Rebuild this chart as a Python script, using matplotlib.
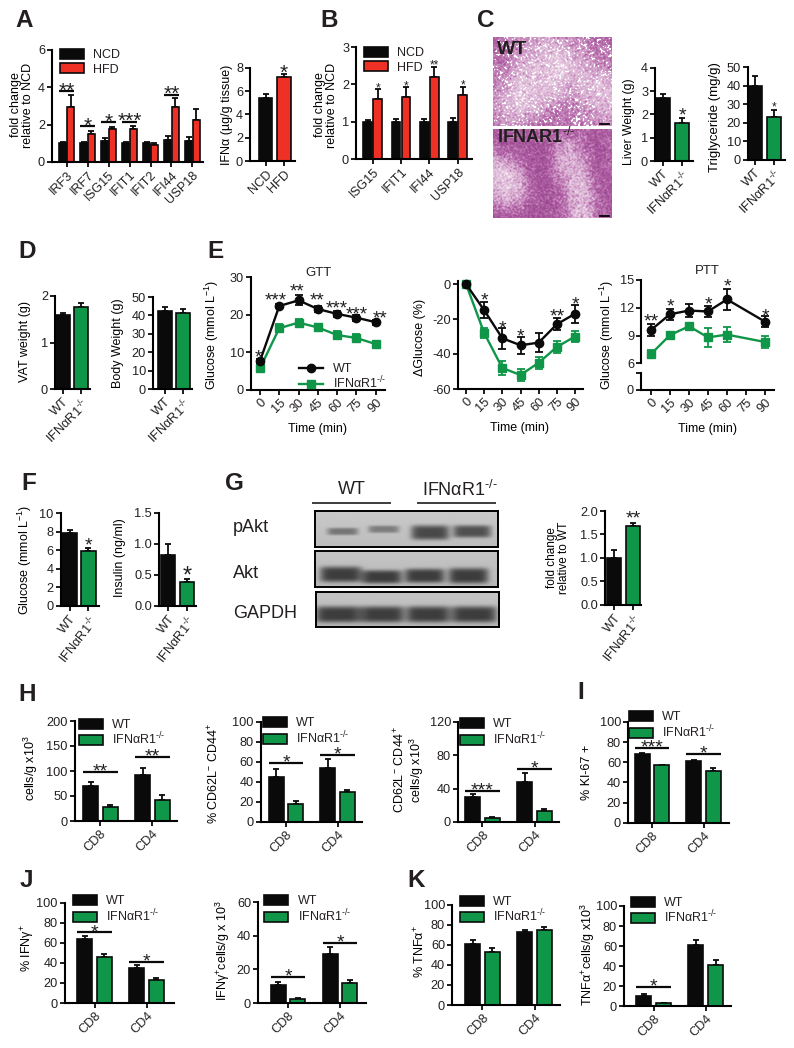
import matplotlib
matplotlib.use("Agg")
import matplotlib.pyplot as plt
import numpy as np
from matplotlib.colors import LinearSegmentedColormap
from matplotlib.lines import Line2D

plt.rcParams["font.family"] = ["Liberation Sans", "DejaVu Sans"]
plt.rcParams["mathtext.fontset"] = "custom"
plt.rcParams["mathtext.rm"] = "Liberation Sans"
plt.rcParams["mathtext.it"] = "Liberation Sans:italic"
plt.rcParams["mathtext.bf"] = "Liberation Sans:bold"
plt.rcParams["mathtext.default"] = "rm"
plt.rcParams["text.color"] = "#231f20"

# panel A
genes_a = ["IRF3", "IRF7", "ISG15", "IFIT1", "IFIT2", "IFI44", "USP18"]
a_ncd = [1.03, 1.03, 1.1, 1.03, 1.0, 1.18, 1.15]
a_ncd_err = [0.05, 0.05, 0.17, 0.05, 0.05, 0.22, 0.2]
a_hfd = [2.97, 1.5, 1.75, 1.77, 0.93, 2.93, 2.25]
a_hfd_err = [0.6, 0.17, 0.1, 0.15, 0.07, 0.5, 0.6]
a_sig = [(0, 3.8, "**"), (1, 1.93, "*"), (2, 2.13, "*"), (3, 2.15, "***"), (5, 3.6, "**")]
ifna = [5.4, 7.25]
ifna_err = [0.35, 0.2]
# panel B
genes_b = ["ISG15", "IFIT1", "IFI44", "USP18"]
b_ncd = [1.0, 1.0, 1.0, 1.0]
b_ncd_err = [0.05, 0.08, 0.08, 0.1]
b_hfd = [1.6, 1.67, 2.2, 1.72]
b_hfd_err = [0.28, 0.25, 0.27, 0.22]
b_stars = ["*", "*", "**", "*"]
b_star_y = [1.98, 2.03, 2.58, 2.05]
# panels C, D, F, G (WT, knockout)
liver = [2.7, 1.65]
liver_err = [0.2, 0.22]
trig = [40, 23]
trig_err = [5, 4]
vat = [1.6, 1.77]
vat_err = [0.03, 0.07]
body = [42.5, 41.5]
body_err = [2, 2]
glucose = [7.8, 5.9]
glucose_err = [0.35, 0.3]
insulin = [0.82, 0.39]
insulin_err = [0.18, 0.05]
pakt = [1.0, 1.68]
pakt_err = [0.17, 0.07]
# panel E
time_min = [0, 15, 30, 45, 60, 75, 90]
gtt_wt = [7.7, 22.3, 23.8, 21.5, 20.2, 19.2, 18]
gtt_wt_err = [0.5, 0.6, 1.3, 0.8, 0.7, 0.8, 0.7]
gtt_ko = [5.8, 16.4, 17.9, 16.6, 14.6, 13.8, 12.2]
gtt_ko_err = [0.7, 1, 1, 1, 1, 1, 0.9]
gtt_star_t = [-1.5, 12.5, 28.8, 44.6, 59.7, 75.2, 93.6]
gtt_stars = ["*", "***", "**", "**", "***", "***", "**"]
gtt_star_y = [9.9, 25, 27.2, 25, 22.9, 21.3, 20.1]
dg_wt = [0, -15, -31, -35, -33.5, -23, -17]
dg_wt_err = [0, 4.5, 6, 5, 5.5, 3.5, 5]
dg_ko = [0, -28, -48, -52, -45, -36, -30]
dg_ko_err = [0, 3, 4, 3.5, 3.5, 3.5, 3]
dg_star_t = [15, 30, 45, 75, 90]
dg_stars = ["*", "*", "*", "**", "*"]
dg_star_y = [-6.7, -22.5, -27, -16, -9]
ptt_time = [0, 15, 30, 45, 60, 90]
ptt_wt = [9.6, 11.3, 11.7, 11.6, 12.9, 10.5]
ptt_wt_err = [0.7, 0.6, 0.7, 0.6, 1.1, 0.6]
ptt_ko = [7, 9.05, 10, 8.8, 9.1, 8.3]
ptt_ko_err = [0.4, 0.3, 0.3, 1, 0.8, 0.6]
ptt_star_t = [0, 15, 45, 60, 90]
ptt_stars = ["**", "*", "*", "*", "*"]
ptt_star_y = [11, 12.6, 12.9, 14.8, 11.6]
# panels H to K (CD8, CD4)
h1_wt, h1_wt_err, h1_ko, h1_ko_err = [70, 92], [8, 14], [28, 43], [5, 9]
h2_wt, h2_wt_err, h2_ko, h2_ko_err = [45, 54], [8, 9], [18, 29.5], [2.5, 2]
h3_wt, h3_wt_err, h3_ko, h3_ko_err = [30, 48], [3.5, 11], [5, 13], [1.5, 3]
i_wt, i_wt_err, i_ko, i_ko_err = [68.5, 61], [1, 1.2], [57, 51.5], [0.7, 2.5]
j1_wt, j1_wt_err, j1_ko, j1_ko_err = [63.5, 35], [3.5, 3], [46, 22.5], [3, 2]
j2_wt, j2_wt_err, j2_ko, j2_ko_err = [10.7, 29.3], [2, 3.7], [2.3, 12], [0.5, 1.5]
k1_wt, k1_wt_err, k1_ko, k1_ko_err = [61, 73], [4, 1.5], [53, 75], [3.5, 3]
k2_wt, k2_wt_err, k2_ko, k2_ko_err = [10.5, 61.5], [2, 5], [3, 41], [0.5, 5]
h1_sig = [(0, 98, "**"), (1, 128, "**")]
h2_sig = [(0, 58.7, "*"), (1, 67, "*")]
h3_sig = [(0, 37.4, "***"), (1, 63.4, "*")]
i_sig = [(0, 74.5, "***"), (1, 68, "*")]
j1_sig = [(0, 70.5, "*"), (1, 41, "*")]
j2_sig = [(0, 15.4, "*"), (1, 35.5, "*")]
k2_sig = [(0, 19.5, "*")]
cells = ["CD8", "CD4"]

# blot bands: lane centre, half width, row centre, half height, darkness (fractions of the box)
pakt_bands = [(0.15, 0.085, 0.58, 0.10, 0.60), (0.375, 0.085, 0.52, 0.10, 0.55),
              (0.63, 0.105, 0.61, 0.20, 0.95), (0.86, 0.105, 0.58, 0.17, 0.90)]
akt_bands = [(0.14, 0.115, 0.65, 0.22, 1.0), (0.365, 0.11, 0.72, 0.19, 1.0),
             (0.60, 0.11, 0.69, 0.20, 1.0), (0.84, 0.11, 0.69, 0.22, 1.0)]
gapdh_bands = [(0.12, 0.125, 0.65, 0.23, 1.0), (0.36, 0.12, 0.65, 0.23, 1.0),
               (0.61, 0.12, 0.65, 0.23, 1.0), (0.86, 0.125, 0.65, 0.23, 1.0)]
wt_tones = ["3455655433", "3456776544", "4467787654", "4577776776",
            "5687765677", "5676544566", "4554344455"]
ko_tones = ["3333323323", "3222256323", "6532267523", "8862257623",
            "7873237732", "5652236742", "2222236743"]

BLACK = "#0a0a0a"
RED = "#ee3124"
GREEN = "#0f9648"
WT_LABEL = "WT"
KO_SUP = r"$^{\text{-/-}}$"
KO_LABEL = "IFNαR1" + KO_SUP
W, H = 794, 1048
fig = plt.figure(figsize=(W / 100, H / 100), dpi=100)


def new_ax(left, right, top, bottom):
    ax = fig.add_axes([left / W, 1 - bottom / H, (right - left) / W, (bottom - top) / H])
    ax.spines[["top", "right"]].set_visible(False)
    ax.spines[["left", "bottom"]].set_linewidth(1.5)
    ax.tick_params(length=3.5, width=1.3, labelsize=9.2, pad=1.5, color=BLACK, labelcolor="#231f20")
    ax.patch.set_alpha(0)
    return ax


def txt(x, y, s, **kw):
    kw.setdefault("ha", "left")
    kw.setdefault("va", "center")
    return fig.text(x / W, 1 - y / H, s, **kw)


def letter(x, y, s):
    txt(x, y, s, fontsize=17.5, fontweight="bold", va="baseline")


def ylabel(ax, x, y, s, size=9):
    ax.set_ylabel(s, fontsize=size, va="center", ha="center", linespacing=1.05)
    ax.yaxis.set_label_coords(x / W, 1 - y / H, transform=fig.transFigure)


def xticks(ax, pos, labels, rot=45):
    ax.set_xticks(pos)
    ax.set_xticklabels(labels, rotation=rot, ha="right", va="top", rotation_mode="anchor", fontsize=9.2)


def star(ax, x, y, s, size=13):
    # the asterisk sits high in the em box, so drop the baseline under the target
    ax.annotate(s, (x, y), xytext=(0, -0.5 * size), textcoords="offset points", ha="center",
                va="baseline", fontsize=size, annotation_clip=False)


def bars(ax, x, vals, errs, color, w, label=None):
    ax.bar(x, vals, w, color=color, edgecolor=BLACK, linewidth=1.2, label=label, zorder=2)
    ax.errorbar(x, vals, yerr=[np.zeros(len(errs)), errs], fmt="none", ecolor=BLACK,
                elinewidth=1.3, capsize=2.4, capthick=1.3, zorder=1, clip_on=False)


def pair(box, xs, ymax, yticks, vals, errs, w=13.5, color=GREEN, labels=(WT_LABEL, KO_LABEL), rot=45):
    left, right, top, bottom = box
    ax = new_ax(left, right, top, bottom)
    step = xs[1] - xs[0]
    bars(ax, [0], vals[:1], errs[:1], BLACK, w / step)
    bars(ax, [1], vals[1:], errs[1:], color, w / step)
    ax.set_xlim((left - xs[0]) / step, (right - xs[0]) / step)
    ax.set_ylim(0, ymax)
    ax.set_yticks(yticks)
    xticks(ax, [0, 1], labels, rot)
    return ax


def grouped(box, x0, step, ymax, yticks, a, a_err, b, b_err, labels, off, w, color=GREEN,
            names=(WT_LABEL, KO_LABEL), sig=(), span=0.335, star_size=14):
    left, right, top, bottom = box
    ax = new_ax(left, right, top, bottom)
    x = np.arange(len(a))
    bars(ax, x - off / step, a, a_err, BLACK, w / step, names[0])
    bars(ax, x + off / step, b, b_err, color, w / step, names[1])
    ax.set_xlim((left - x0) / step, (right - x0) / step)
    ax.set_ylim(0, ymax)
    ax.set_yticks(yticks)
    xticks(ax, x, labels)
    for g, y, s in sig:
        ax.plot([g - span, g + span], [y, y], color=BLACK, lw=1.6, solid_capstyle="butt", clip_on=False)
        ax.annotate(s, (g, y), xytext=(0, 3.6 - 0.5 * star_size), textcoords="offset points",
                    ha="center", va="baseline", fontsize=star_size, annotation_clip=False)
    return ax


def legend(ax, x, y, spacing=0.0):
    ax.legend(loc="upper left", bbox_to_anchor=(x / W, 1 - y / H), bbox_transform=fig.transFigure,
              frameon=False, borderpad=0, borderaxespad=0, fontsize=9, handlelength=1.92,
              handleheight=0.85, handletextpad=0.75, labelspacing=spacing)


def curves(ax, t, a, a_err, b, b_err):
    ax.errorbar(t, a, yerr=a_err, color=BLACK, lw=1.7, marker="o", ms=6, capsize=2.8, capthick=1.3,
                elinewidth=1.3, zorder=3, clip_on=False)
    ax.errorbar(t, b, yerr=b_err, color=GREEN, lw=1.7, marker="s", ms=6, capsize=2.8, capthick=1.3,
                elinewidth=1.3, zorder=2, clip_on=False)


def time_xlim(ax, left, right, x0, x90):
    scale = (x90 - x0) / 90
    ax.set_xlim((left - x0) / scale, (right - x0) / scale)


def xlabel_time(ax, x, y):
    ax.set_xlabel("Time (min)", fontsize=9, va="center")
    ax.xaxis.set_label_coords(x / W, 1 - y / H, transform=fig.transFigure)


def tones(rows, shape):
    grid = np.array([[int(c) for c in r] for r in rows]) / 9
    xs = np.linspace(0, grid.shape[1] - 1, shape[1])
    ys = np.linspace(0, grid.shape[0] - 1, shape[0])
    across = np.array([np.interp(xs, np.arange(grid.shape[1]), r) for r in grid])
    return np.array([np.interp(ys, np.arange(grid.shape[0]), c) for c in across.T]).T


he_cmap = LinearSegmentedColormap.from_list("he", ["#98478f", "#b263a6", "#d6a9cf", "#efdcea", "#ffffff"])


def micrograph(box, rows, holes):
    left, right, top, bottom = box
    ax = fig.add_axes([left / W, 1 - bottom / H, (right - left) / W, (bottom - top) / H])
    yy, xx = np.indices((int(bottom - top), int(right - left)))
    # photo grain only, not chart data
    n = (np.sin(12.9898 * xx + 78.233 * yy) * 43758.5453) % 1
    grain = (n + np.roll(n, 1, 0) + np.roll(n, 1, 1) + np.roll(n, (1, 1), (0, 1))) / 4 - 0.5
    img = tones(rows, xx.shape) * (0.8 if holes else 0.72) + 0.55 * grain
    if holes:
        img[grain > 0.2] = 1
    ax.imshow(img, cmap=he_cmap, vmin=0, vmax=1, aspect="auto", interpolation="bilinear")
    ax.autoscale(False)
    ax.plot([right - left - 13, right - left - 4], [bottom - top - 3] * 2, color="black", lw=1.3)
    ax.axis("off")


def blot(box, bands, bg=0.72):
    left, right, top, bottom = box
    ax = fig.add_axes([left / W, 1 - bottom / H, (right - left) / W, (bottom - top) / H])
    yy, xx = np.mgrid[0:1:72j, 0:1:220j]
    img = np.full(xx.shape, bg) + 0.05 * (1 - yy)
    for cx, wx, cy, wy, dark in bands:
        img -= dark * 0.5 * np.exp(-((xx - cx) / wx) ** 6 - ((yy - cy) / wy) ** 4)
    ax.imshow(img, cmap="gray", vmin=0, vmax=1, aspect="auto", interpolation="bilinear")
    ax.set_xticks([])
    ax.set_yticks([])
    for sp in ax.spines.values():
        sp.set_linewidth(1.4)


# A
letter(15, 27, "A")
ax = grouped((52, 203, 50, 162), 66.7, 20.95, 6, [0, 2, 4, 6], a_ncd, a_ncd_err, a_hfd, a_hfd_err,
             genes_a, 3.8, 7.3, RED, ("NCD", "HFD"), a_sig, 0.36, 15)
legend(ax, 60, 49, 0.16)
ylabel(ax, 22, 105, "fold change\nrelative to NCD")
ax = pair((250, 295, 68, 161), (265.7, 284), 8, [0, 2, 4, 6, 8], ifna, ifna_err, color=RED, labels=("NCD", "HFD"))
star(ax, 1, 8, "*", 15)
ylabel(ax, 227, 115, "IFNα (µg/g tissue)")

# B
letter(320, 27, "B")
ax = grouped((356, 472, 47, 159), 372.7, 28.3, 3, [0, 1, 2, 3], b_ncd, b_ncd_err, b_hfd, b_hfd_err,
             genes_b, 5, 8.7, RED, ("NCD", "HFD"))
legend(ax, 364, 47, 0.16)
for i, s in enumerate(b_stars):
    star(ax, i + 5 / 28.3, b_star_y[i], s, 8.5)
ylabel(ax, 326, 105, "fold change\nrelative to NCD")

# C
letter(477, 27, "C")
micrograph((493, 612, 37, 126), wt_tones, True)
micrograph((493, 612, 129, 218), ko_tones, False)
txt(497, 50, "WT", fontsize=14, fontweight="bold")
txt(497, 137, "IFNAR1" + KO_SUP, fontsize=13, fontweight="bold")
ax = pair((655, 693, 68, 161), (663, 682), 4, [0, 1, 2, 3, 4], liver, liver_err)
star(ax, 1, 2.16, "*", 14)
ylabel(ax, 629, 122, "Liver Weight (g)", 8.8)
ax = pair((748, 785, 67, 160), (755, 774), 50, [0, 10, 20, 30, 40, 50], trig, trig_err)
star(ax, 1, 30, "*", 8.5)
ylabel(ax, 715, 117, "Triglyceride (mg/g)", 9.5)

# D
letter(18, 258, "D")
ax = pair((55, 90, 296, 389), (63, 81), 2, [0, 1, 2], vat, vat_err, w=14)
ylabel(ax, 25, 342, "VAT weight (g)")
ax = pair((153, 192, 297, 389), (164.5, 183), 50, [0, 10, 20, 30, 40, 50], body, body_err, w=14)
ylabel(ax, 118, 343, "Body Weight (g)")

# E
letter(207, 258, "E")
ax = new_ax(251, 385, 277, 390)
curves(ax, time_min, gtt_wt, gtt_wt_err, gtt_ko, gtt_ko_err)
time_xlim(ax, 251, 385, 260, 375.7)
ax.set_ylim(0, 30)
ax.set_yticks([0, 10, 20, 30])
xticks(ax, time_min, time_min)
for t, s, y in zip(gtt_star_t, gtt_stars, gtt_star_y):
    star(ax, t, y, s, 13.5)
gtt_handles = [Line2D([], [], color=BLACK, lw=1.7, marker="o", ms=6, label=WT_LABEL),
               Line2D([], [], color=GREEN, lw=1.7, marker="s", ms=6, label=KO_LABEL)]
ax.legend(handles=gtt_handles, loc="upper left", bbox_to_anchor=(299 / W, 1 - 363 / H),
          bbox_transform=fig.transFigure, frameon=False, borderpad=0, borderaxespad=0, fontsize=9,
          handlelength=1.9, handletextpad=0.85, labelspacing=0.0)
ax.set_title("GTT", fontsize=9.5, pad=0, y=1.01)
ylabel(ax, 212, 335, r"Glucose (mmol L$^{-1}$)")
xlabel_time(ax, 318, 429)

ax = new_ax(458, 583, 280.5, 389)
curves(ax, time_min, dg_wt, dg_wt_err, dg_ko, dg_ko_err)
time_xlim(ax, 458, 583, 466, 575)
ax.set_ylim(-60, 2)
ax.set_yticks([0, -20, -40, -60])
ax.set_yticklabels(["0", "-20", "-40", "-60"])
xticks(ax, time_min, time_min)
for t, s, y in zip(dg_star_t, dg_stars, dg_star_y):
    star(ax, t, y, s, 14)
ylabel(ax, 420, 337, "ΔGlucose (%)")
xlabel_time(ax, 520, 428)

ax = new_ax(641, 774, 280, 363.3)
curves(ax, ptt_time, ptt_wt, ptt_wt_err, ptt_ko, ptt_ko_err)
time_xlim(ax, 641, 774, 651, 765)
ax.set_ylim(6, 15)
ax.set_yticks([6, 9, 12, 15])
ax.spines["bottom"].set_visible(False)
ax.set_xticks([])
for t, s, y in zip(ptt_star_t, ptt_stars, ptt_star_y):
    star(ax, t, y, s, 14)
ax.set_title("PTT", fontsize=9.5, pad=0, y=1.07)
ylabel(ax, 607, 335, r"Glucose (mmol L$^{-1}$)")
low = new_ax(641, 774, 373, 390)
time_xlim(low, 641, 774, 651, 765)
low.set_ylim(0, 1)
low.set_yticks([0, 1])
low.set_yticklabels(["0", ""])
xticks(low, time_min, time_min)
xlabel_time(low, 707, 428.6)

# F
letter(21, 490, "F")
ax = pair((60.5, 99.5, 513, 606), (69.5, 88.5), 10, [0, 2, 4, 6, 8, 10], glucose, glucose_err, w=15, rot=52)
star(ax, 1, 7, "*", 14)
ylabel(ax, 25, 560, r"Glucose (mmol L$^{-1}$)")
ax = pair((159, 196, 512.7, 606), (168, 187), 1.5, [0, 0.5, 1, 1.5], insulin, insulin_err, w=14, rot=52)
ax.set_yticklabels(["0.0", "0.5", "1.0", "1.5"])
star(ax, 1, 0.57, "*", 17)
ylabel(ax, 120, 558, "Insulin (ng/ml)")

# G
letter(225, 490, "G")
txt(352, 490, "WT", fontsize=13, ha="center")
txt(460, 490, KO_LABEL, fontsize=13, ha="center")
for x1, x2 in [(313.3, 390), (418.3, 495)]:
    fig.add_artist(Line2D([x1 / W, x2 / W], [1 - 502.5 / H] * 2, color="#3c3c3c", lw=1.4))
txt(233, 528, "pAkt", fontsize=13)
txt(233, 573, "Akt", fontsize=13)
txt(233, 614, "GAPDH", fontsize=13)
blot((315, 498, 510.7, 546.7), pakt_bands, 0.74)
blot((315, 498, 551, 586.7), akt_bands)
blot((316, 499.3, 591.7, 627.3), gapdh_bands)
ax = pair((605, 641, 511, 604.7), (614, 633), 2, [0, 0.5, 1, 1.5, 2], pakt, pakt_err, w=14, rot=52)
ax.set_yticklabels(["0.0", "0.5", "1.0", "1.5", "2.0"])
star(ax, 1, 1.94, "**", 14)
ylabel(ax, 558, 558, "fold change\nrelative to WT", 8.5)

# H
letter(18, 701, "H")
ax = grouped((74.6, 177, 721, 821), 100.3, 52, 200, [0, 50, 100, 150, 200], h1_wt, h1_wt_err, h1_ko, h1_ko_err,
             cells, 9.8, 15, sig=h1_sig)
legend(ax, 78.6, 718.7)
ylabel(ax, 31, 768, r"cells/g x10$^{3}$")
ax = grouped((260.5, 362, 721.7, 821.7), 286, 51.6, 100, [0, 20, 40, 60, 80, 100], h2_wt, h2_wt_err, h2_ko, h2_ko_err,
             cells, 9.8, 15, sig=h2_sig)
legend(ax, 263, 717)
ylabel(ax, 214, 773, r"% CD62L$^{-}$ CD44$^{+}$")
ax = grouped((458, 559, 721.7, 822), 482.5, 52, 120, [0, 40, 80, 120], h3_wt, h3_wt_err, h3_ko, h3_ko_err,
             cells, 9.8, 15, sig=h3_sig)
legend(ax, 459.6, 718)
ylabel(ax, 409, 770, "CD62L$^{-}$ CD44$^{+}$\ncells/g x10$^{3}$")

# I
letter(577, 699, "I")
ax = grouped((628, 729, 722, 822.7), 652, 51.6, 100, [0, 20, 40, 60, 80, 100], i_wt, i_wt_err, i_ko, i_ko_err,
             cells, 9.8, 15, sig=i_sig)
legend(ax, 629, 711)
ylabel(ax, 587, 772, "% KI-67 +")

# J
letter(20, 887, "J")
ax = grouped((64.7, 173.7, 902.7, 1003), 94.5, 52, 100, [0, 20, 40, 60, 80, 100], j1_wt, j1_wt_err, j1_ko, j1_ko_err,
             cells, 9.8, 15, sig=j1_sig)
legend(ax, 72.5, 895)
ylabel(ax, 28, 948, r"% IFNγ$^{+}$")
ax = grouped((258, 365.6, 902, 1003), 288, 52, 60, [0, 20, 40, 60], j2_wt, j2_wt_err, j2_ko, j2_ko_err,
             cells, 9.8, 15, sig=j2_sig)
legend(ax, 264.3, 895)
ylabel(ax, 223, 950, r"IFNγ$^{+}$cells/g x 10$^{3}$")

# K
letter(407, 887, "K")
ax = grouped((452, 560, 904.7, 1005), 482.5, 52, 100, [0, 20, 40, 60, 80, 100], k1_wt, k1_wt_err, k1_ko, k1_ko_err,
             cells, 9.8, 15)
legend(ax, 459.6, 895.7)
ylabel(ax, 420, 952, r"% TNFα$^{+}$")
ax = grouped((624, 731, 906, 1006.3), 653.7, 52, 100, [0, 20, 40, 60, 80, 100], k2_wt, k2_wt_err, k2_ko, k2_ko_err,
             cells, 9.8, 15, sig=k2_sig)
legend(ax, 630.5, 896.7)
ylabel(ax, 588, 955, r"TNFα$^{+}$cells/g x10$^{3}$")

fig.savefig("out.png", dpi=100, facecolor="white")
